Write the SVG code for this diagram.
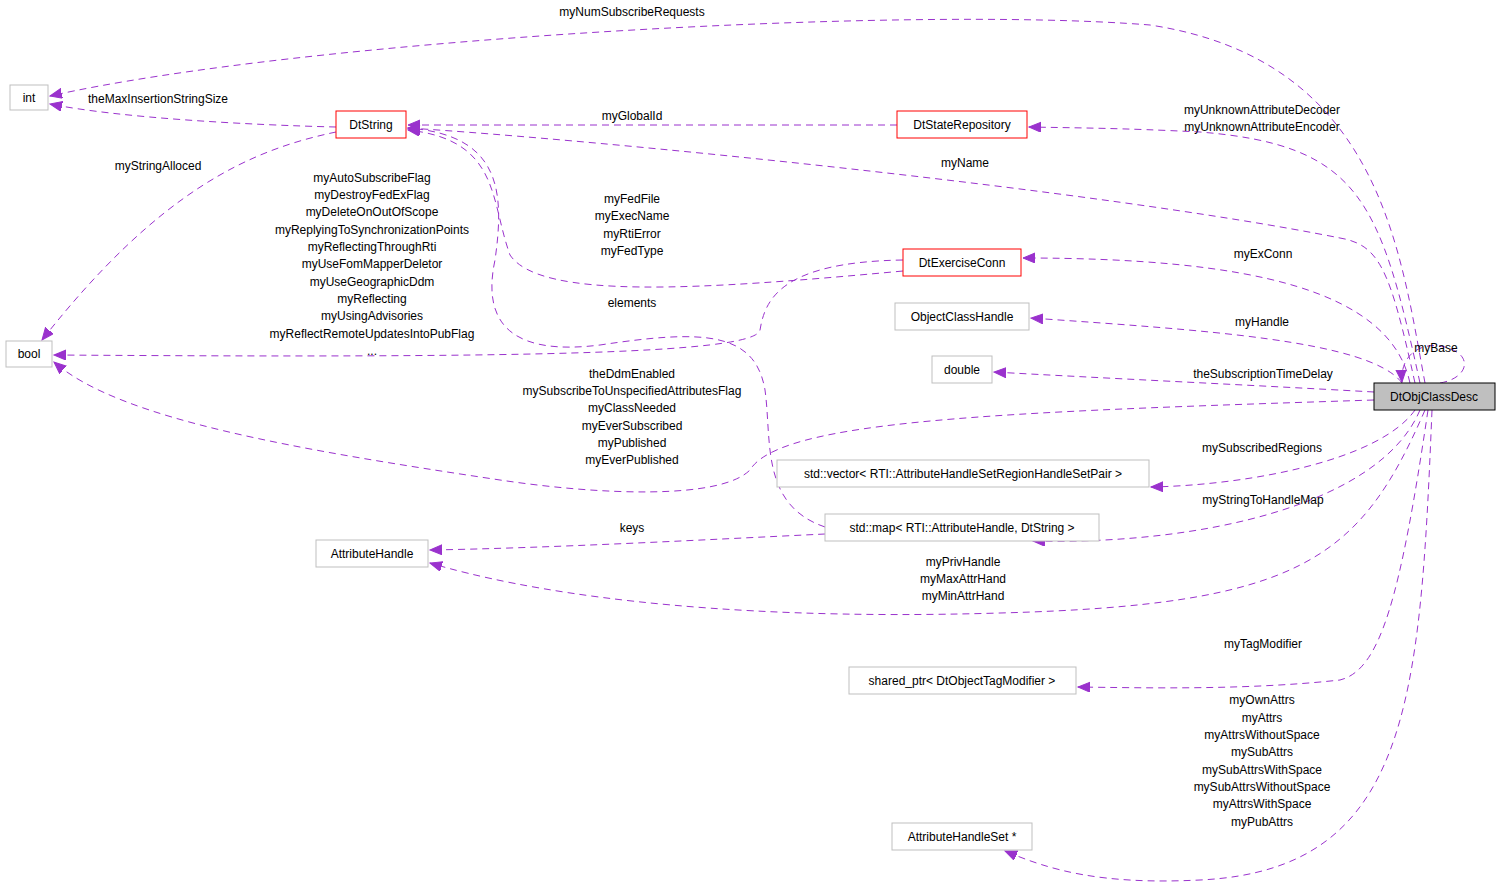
<svg xmlns="http://www.w3.org/2000/svg" width="1501" height="888" viewBox="0 0 1501 888">
<style>
.n rect{fill:#fff;stroke:#bfbfbf;stroke-width:1}
.r rect{stroke:#ff0000}
.m rect{fill:#bfbfbf;stroke:#000}
text{font-family:"Liberation Sans",Arial,sans-serif;font-size:12px;fill:#000;text-anchor:middle}
#edges path{fill:none;stroke:#9a32cd;stroke-width:1;stroke-dasharray:7,5;marker-end:url(#a)}
</style>
<defs><marker id="a" markerUnits="userSpaceOnUse" markerWidth="14" markerHeight="12" refX="12" refY="5" orient="auto"><polygon points="0,0 12,5 0,10" fill="#9a32cd" stroke="#9a32cd"/></marker></defs>
<rect width="1501" height="888" fill="#fff"/>
<g id="edges">
<path d="M1425,383 C1400,250 1380,60 1150,25 C900,5 300,40 50,96"/>
<path d="M336,127 C250,125 120,118 50,104"/>
<path d="M336,132 C250,150 160,190 42,340"/>
<path d="M897,125 L408,125"/>
<path d="M1420,383 C1380,200 1360,145 1200,132 C1120,128 1080,128 1029,127"/>
<path d="M1415,383 C1390,270 1380,245 1340,238 C1100,190 600,140 408,128"/>
<path d="M903,271 C700,290 540,300 510,255 C490,200 500,140 408,130"/>
<path d="M903,260 C780,262 765,300 760,330 C755,355 500,358 54,355"/>
<path d="M1410,383 C1390,290 1250,258 1023,258"/>
<path d="M825,527 C760,505 772,440 765,390 C755,330 700,330 600,345 C520,355 480,330 495,260 C505,190 500,135 408,128"/>
<path d="M1402,383 C1370,340 1200,330 1031,318"/>
<path d="M1440,383 C1470,378 1475,352 1440,346 C1420,343 1400,355 1402,382"/>
<path d="M1374,392 C1250,385 1100,378 994,372"/>
<path d="M1374,400 C1000,412 780,420 750,470 C720,500 600,495 500,480 C300,450 120,420 54,362"/>
<path d="M1415,410 C1380,460 1250,485 1151,487"/>
<path d="M1420,410 C1380,505 1200,545 1033,541"/>
<path d="M825,534 C700,540 550,548 430,550"/>
<path d="M1425,410 C1360,560 1300,605 1000,613 C700,622 520,590 430,563"/>
<path d="M1428,410 C1400,600 1380,670 1340,680 C1250,690 1150,688 1078,687"/>
<path d="M1432,410 C1420,700 1410,870 1200,880 C1100,885 1050,870 1005,851"/>
</g>
<g id="labels">
<text x="632" y="16">myNumSubscribeRequests</text>
<text x="158" y="103">theMaxInsertionStringSize</text>
<text x="158" y="170">myStringAlloced</text>
<text x="632" y="120">myGlobalId</text>
<text x="1262" y="114">myUnknownAttributeDecoder</text>
<text x="1262" y="131">myUnknownAttributeEncoder</text>
<text x="965" y="167">myName</text>
<text x="632" y="203">myFedFile</text>
<text x="632" y="220">myExecName</text>
<text x="632" y="238">myRtiError</text>
<text x="632" y="255">myFedType</text>
<text x="372" y="182">myAutoSubscribeFlag</text>
<text x="372" y="199">myDestroyFedExFlag</text>
<text x="372" y="216">myDeleteOnOutOfScope</text>
<text x="372" y="234">myReplyingToSynchronizationPoints</text>
<text x="372" y="251">myReflectingThroughRti</text>
<text x="372" y="268">myUseFomMapperDeletor</text>
<text x="372" y="286">myUseGeographicDdm</text>
<text x="372" y="303">myReflecting</text>
<text x="372" y="320">myUsingAdvisories</text>
<text x="372" y="338">myReflectRemoteUpdatesIntoPubFlag</text>
<text x="372" y="355">...</text>
<text x="1263" y="258">myExConn</text>
<text x="632" y="307">elements</text>
<text x="1262" y="326">myHandle</text>
<text x="1436" y="352">myBase</text>
<text x="1263" y="378">theSubscriptionTimeDelay</text>
<text x="632" y="378">theDdmEnabled</text>
<text x="632" y="395">mySubscribeToUnspecifiedAttributesFlag</text>
<text x="632" y="412">myClassNeeded</text>
<text x="632" y="430">myEverSubscribed</text>
<text x="632" y="447">myPublished</text>
<text x="632" y="464">myEverPublished</text>
<text x="1262" y="452">mySubscribedRegions</text>
<text x="1263" y="504">myStringToHandleMap</text>
<text x="632" y="532">keys</text>
<text x="963" y="566">myPrivHandle</text>
<text x="963" y="583">myMaxAttrHand</text>
<text x="963" y="600">myMinAttrHand</text>
<text x="1263" y="648">myTagModifier</text>
<text x="1262" y="704">myOwnAttrs</text>
<text x="1262" y="722">myAttrs</text>
<text x="1262" y="739">myAttrsWithoutSpace</text>
<text x="1262" y="756">mySubAttrs</text>
<text x="1262" y="774">mySubAttrsWithSpace</text>
<text x="1262" y="791">mySubAttrsWithoutSpace</text>
<text x="1262" y="808">myAttrsWithSpace</text>
<text x="1262" y="826">myPubAttrs</text>
</g>
<g id="n_int" class="n"><rect x="10" y="85" width="38" height="25"/><text x="29" y="102">int</text></g>
<g id="n_bool" class="n"><rect x="6" y="341" width="46" height="26"/><text x="29" y="358">bool</text></g>
<g id="n_dtstring" class="n r"><rect x="336" y="111" width="70" height="27"/><text x="371" y="129">DtString</text></g>
<g id="n_dtstaterepo" class="n r"><rect x="897" y="111" width="130" height="27"/><text x="962" y="129">DtStateRepository</text></g>
<g id="n_dtexconn" class="n r"><rect x="903" y="249" width="118" height="27"/><text x="962" y="267">DtExerciseConn</text></g>
<g id="n_och" class="n"><rect x="895" y="303" width="134" height="27"/><text x="962" y="321">ObjectClassHandle</text></g>
<g id="n_double" class="n"><rect x="932" y="356" width="60" height="27"/><text x="962" y="374">double</text></g>
<g id="n_main" class="n m"><rect x="1374" y="383" width="121" height="27"/><text x="1434" y="401">DtObjClassDesc</text></g>
<g id="n_vector" class="n"><rect x="777" y="460" width="372" height="27"/><text x="963" y="478">std::vector&lt; RTI::AttributeHandleSetRegionHandleSetPair &gt;</text></g>
<g id="n_map" class="n"><rect x="825" y="514" width="274" height="27"/><text x="962" y="532">std::map&lt; RTI::AttributeHandle, DtString &gt;</text></g>
<g id="n_ah" class="n"><rect x="316" y="540" width="112" height="27"/><text x="372" y="558">AttributeHandle</text></g>
<g id="n_shared" class="n"><rect x="849" y="667" width="227" height="27"/><text x="962" y="685">shared_ptr&lt; DtObjectTagModifier &gt;</text></g>
<g id="n_ahs" class="n"><rect x="892" y="823" width="140" height="27"/><text x="962" y="841">AttributeHandleSet *</text></g>
</svg>
